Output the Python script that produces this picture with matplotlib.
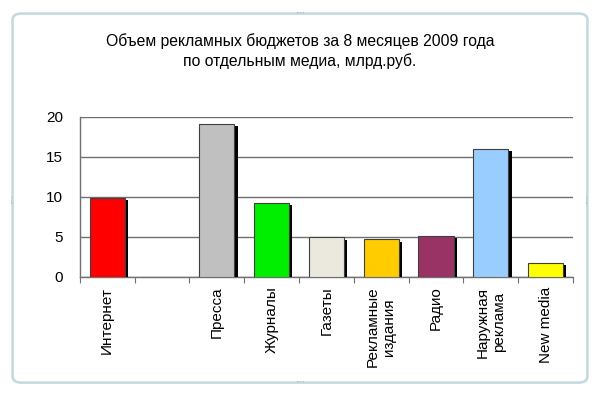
import matplotlib
matplotlib.use("Agg")
import matplotlib.pyplot as plt
import matplotlib.patheffects as pe
from matplotlib.patches import FancyBboxPatch
import numpy as np

plt.rcParams['font.family'] = ['Liberation Sans', 'DejaVu Sans']

# data (bln rub)
categories = ['Интернет', '', 'Пресса', 'Журналы', 'Газеты', 'Рекламные\nиздания',
              'Радио', 'Наружная\nреклама', 'New media']
values = [9.9, 0.0, 19.1, 9.3, 4.95, 4.7, 5.1, 16.0, 1.8]
colors = ['#ff0000', '#ffffff', '#c0c0c0', '#00ee00', '#ebe9dd', '#ffcc00',
          '#993366', '#99ccff', '#ffff00']
yticks = [0, 5, 10, 15, 20]
title = 'Объем рекламных бюджетов за 8 месяцев 2009 года\nпо отдельным медиа, млрд.руб.'

fig = plt.figure(figsize=(6, 3.99), dpi=100)

# outer chart frame (rounded, light blue)
frame = FancyBboxPatch((0.021, 0.041), 0.958, 0.925, boxstyle='round,pad=0,rounding_size=0.015',
                       transform=fig.transFigure, facecolor='white', edgecolor='#c2d8df',
                       linewidth=1.8, zorder=-10)
fig.patches.append(frame)
# little resize handles of the chart object
for hx, hy, r in [(0.5, 0.966, 0), (0.5, 0.041, 0), (0.021, 0.5, 90), (0.979, 0.5, 90)]:
    fig.text(hx, hy, '····', ha='center', va='center', fontsize=5, color='#8a9aa0', rotation=r)

ax = fig.add_axes([0.133, 0.306, 0.822, 0.401])
ax.patch.set_alpha(0)
x = np.arange(len(categories))
for xi, v, c in zip(x, values, colors):
    if v <= 0:
        continue
    ax.bar(xi, v, width=0.64, color=c, edgecolor='#404040', linewidth=0.8, zorder=3,
           path_effects=[pe.SimplePatchShadow(offset=(2.4, -1.6), shadow_rgbFace='black',
                                              alpha=1.0), pe.Normal()])

ax.set_xlim(-0.5, len(categories) - 0.5)
ax.set_ylim(0, 20)
ax.set_yticks(yticks)
ax.yaxis.grid(True, color='#707070', linewidth=1.0, zorder=1)
ax.set_axisbelow(True)

ax.set_xticks(np.arange(len(categories) + 1) - 0.5)
ax.set_xticklabels([])
ax.set_xticks(x, minor=True)
ax.set_xticklabels(categories, minor=True, rotation=90, va='top', ha='center',
                   multialignment='center', fontsize=11)
ax.tick_params(axis='x', which='major', direction='out', length=4, color='#707070')
ax.tick_params(axis='x', which='minor', length=0, pad=7)
ax.tick_params(axis='y', length=0, labelsize=11, pad=12)

for s in ['top', 'right']:
    ax.spines[s].set_visible(False)
for s in ['left', 'bottom']:
    ax.spines[s].set_color('#707070')
    ax.spines[s].set_linewidth(1.0)

fig.text(0.5, 0.918, title, ha='center', va='top', fontsize=11.3, linespacing=1.35)

fig.savefig('out.png', dpi=100)
